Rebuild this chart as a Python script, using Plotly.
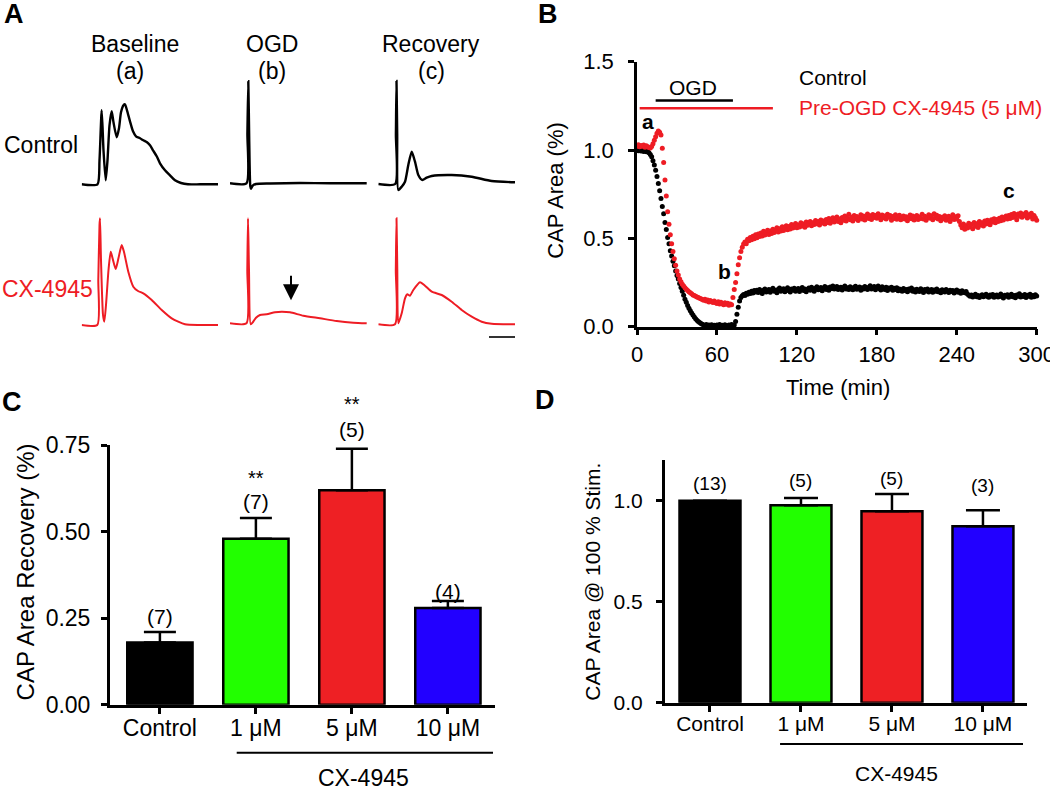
import plotly.graph_objects as go

W, H = 1050, 790
FONT = "Liberation Sans, Arial, Helvetica, sans-serif"
RED = "#ee1c24"

# ---------------- Panel A : CAP traces (time units, amplitude units)
ctrl_base_t = [0, 15.8, 17.8, 20.0, 21.8, 24.0, 25.8, 27.8, 30.0, 31.8, 35.0, 37.3, 39.3, 41.8, 43.3, 45.3,
               48.3, 51.3, 54.3, 58.3, 61.6, 65.3, 68.3, 71.3, 75.0, 78.3, 83.3, 88.3, 93.3, 99.3, 106.3, 118.3, 136.3]
ctrl_base_v = [0, 0, 24, 74, 34, 4, 24, 59, 73, 62, 47, 56, 72, 79, 80, 74,
               63, 53, 48, 46, 44, 42, 39, 34, 28, 21, 14, 9, 4, 1.3, 0, 0, 0]
ctrl_ogd_t = [0, 16.5, 17.4, 18.3, 19.2, 20.3, 21.0, 22.5, 26, 40, 70, 100, 136.7]
ctrl_ogd_v = [0, 0, 50, 102, 45, -3, -5.5, -2.5, -0.7, -0.2, 0.3, 0, 0]
ctrl_rec_t = [0, 16.9, 17.6, 18.2, 18.9, 20.0, 23.4, 26.7, 30.0, 33.4, 36.7, 40.0, 44.0, 48.4, 53.4, 73.4, 93.4, 113.4, 136.7]
ctrl_rec_v = [0, 0, 50, 103, 50, -6, -2.7, 2.3, 19, 32.3, 22.3, 9, 4, 6.3, 8, 9, 7.3, 3, 1.7]

cx_base_t = [0, 15.6, 16.6, 17.8, 18.3, 19.3, 21.3, 22.6, 24.3, 26.8, 29.0, 30.8, 34.0, 36.8, 40.0, 42.3,
             46.6, 51.6, 56.3, 61.6, 70.0, 80.0, 90.0, 103.3, 118.3, 136.3]
cx_base_v = [0, 0, 45, 100, 106.7, 65, 10, 3.3, 20, 55, 73.3, 67, 56, 67, 80, 73,
             53.3, 38.3, 34, 31.7, 25, 15, 6.7, 0.7, 0, 0]
cx_ogd_t = [0, 16.5, 17.3, 18, 19, 20.7, 23, 26, 30, 36.7, 45, 51.7, 60, 73.3, 90, 106.7, 123.3, 136.7]
cx_ogd_v = [0, 0, 53.3, 105, 53.3, -1, 1.3, 5.6, 8.3, 9, 11, 11.6, 11, 7.6, 5, 2.3, 0.6, 0]
cx_rec_t = [0, 16.7, 17.5, 18.2, 19, 20, 23.4, 26.7, 29, 31.7, 35, 41.7, 46.7, 53.4, 63.4, 73.4, 83.4, 93.4, 103.4, 113.4, 136.7]
cx_rec_v = [0, 0, 54.3, 106, 54.3, 1, 11, 26, 30, 28.6, 34.3, 42, 38.6, 32.6, 29.3, 22.6, 14.3, 7.6, 2.6, 0.6, 0]

# ---------------- Panel B : CAP area vs time (one reading per minute)
time_min = list(range(0, 301))
control_area = [
    1.000, 0.996, 1.003, 0.995, 1.001, 0.992, 0.998, 0.990, 0.994, 0.985,
    0.975, 0.962, 0.940, 0.915, 0.885, 0.850, 0.810, 0.770, 0.725, 0.680,
    0.640, 0.590, 0.550, 0.505, 0.470, 0.430, 0.400, 0.370, 0.345, 0.315,
    0.290, 0.270, 0.245, 0.222, 0.200, 0.178, 0.155, 0.138, 0.120, 0.105,
    0.090, 0.078, 0.066, 0.055, 0.045, 0.037, 0.030, 0.024, 0.018, 0.014,
    0.010, 0.006, 0.012, 0.004, 0.009, 0.002, 0.011, 0.005, 0.008, 0.001,
    0.010, 0.004, 0.012, 0.003, 0.008, 0.000, 0.011, 0.006, 0.002, 0.009,
    0.004, 0.012, 0.003, 0.010, 0.030, 0.070, 0.110, 0.145, 0.165, 0.175,
    0.182, 0.176, 0.190, 0.184, 0.195, 0.188, 0.200, 0.191, 0.205, 0.196,
    0.207, 0.193, 0.210, 0.199, 0.188, 0.206, 0.214, 0.197, 0.203, 0.211,
    0.195, 0.209, 0.217, 0.200, 0.206, 0.192, 0.212, 0.219, 0.201, 0.208,
    0.215, 0.198, 0.210, 0.221, 0.204, 0.196, 0.213, 0.206, 0.218, 0.200,
    0.209, 0.216, 0.199, 0.212, 0.222, 0.205, 0.214, 0.198, 0.210, 0.219,
    0.207, 0.224, 0.213, 0.201, 0.217, 0.226, 0.209, 0.215, 0.222, 0.204,
    0.218, 0.228, 0.211, 0.220, 0.206, 0.225, 0.216, 0.231, 0.213, 0.221,
    0.227, 0.210, 0.219, 0.224, 0.208, 0.222, 0.230, 0.214, 0.220, 0.211,
    0.226, 0.217, 0.209, 0.223, 0.229, 0.212, 0.219, 0.225, 0.207, 0.221,
    0.214, 0.228, 0.218, 0.210, 0.224, 0.232, 0.213, 0.220, 0.227, 0.209,
    0.222, 0.230, 0.215, 0.208, 0.226, 0.217, 0.211, 0.223, 0.205, 0.219,
    0.213, 0.224, 0.206, 0.217, 0.210, 0.221, 0.203, 0.214, 0.209, 0.200,
    0.216, 0.205, 0.211, 0.198, 0.213, 0.207, 0.219, 0.201, 0.209, 0.196,
    0.212, 0.204, 0.199, 0.215, 0.206, 0.193, 0.210, 0.202, 0.214, 0.197,
    0.205, 0.211, 0.195, 0.208, 0.200, 0.213, 0.198, 0.204, 0.192, 0.209,
    0.201, 0.196, 0.210, 0.203, 0.194, 0.207, 0.199, 0.205, 0.191, 0.202,
    0.208, 0.195, 0.200, 0.189, 0.204, 0.197, 0.192, 0.199, 0.185, 0.178,
    0.172, 0.180, 0.168, 0.175, 0.183, 0.170, 0.177, 0.165, 0.174, 0.181,
    0.169, 0.176, 0.184, 0.171, 0.166, 0.179, 0.173, 0.182, 0.167, 0.175,
    0.180, 0.168, 0.174, 0.185, 0.170, 0.163, 0.178, 0.172, 0.181, 0.166,
    0.175, 0.183, 0.169, 0.177, 0.164, 0.180, 0.172, 0.186, 0.168, 0.176,
    0.171, 0.182, 0.165, 0.178, 0.173, 0.184, 0.167, 0.176, 0.170, 0.181,
    0.174]
cx4945_area = [
    1.022, 1.030, 1.018, 1.026, 1.021, 1.028, 1.016, 1.024, 1.019, 1.015,
    1.012, 1.020, 1.035, 1.055, 1.075, 1.095, 1.108, 1.100, 1.085, 1.010,
    0.930, 0.830, 0.740, 0.650, 0.580, 0.520, 0.470, 0.425, 0.385, 0.348,
    0.315, 0.292, 0.270, 0.255, 0.240, 0.230, 0.220, 0.212, 0.205, 0.198,
    0.192, 0.186, 0.180, 0.176, 0.172, 0.168, 0.165, 0.161, 0.158, 0.154,
    0.150, 0.156, 0.146, 0.151, 0.140, 0.148, 0.143, 0.137, 0.145, 0.136,
    0.132, 0.141, 0.128, 0.138, 0.130, 0.124, 0.135, 0.127, 0.133, 0.122,
    0.129, 0.124, 0.165, 0.210, 0.250, 0.300, 0.350, 0.390, 0.425, 0.450,
    0.468, 0.480, 0.470, 0.495, 0.486, 0.505, 0.492, 0.512, 0.498, 0.520,
    0.503, 0.525, 0.510, 0.531, 0.514, 0.540, 0.519, 0.535, 0.546, 0.522,
    0.541, 0.527, 0.552, 0.533, 0.548, 0.560, 0.536, 0.555, 0.542, 0.566,
    0.545, 0.561, 0.572, 0.549, 0.567, 0.553, 0.578, 0.558, 0.571, 0.584,
    0.560, 0.576, 0.565, 0.588, 0.570, 0.582, 0.563, 0.592, 0.574, 0.586,
    0.596, 0.571, 0.589, 0.578, 0.601, 0.583, 0.595, 0.576, 0.604, 0.587,
    0.598, 0.581, 0.607, 0.590, 0.612, 0.585, 0.600, 0.616, 0.593, 0.606,
    0.621, 0.595, 0.610, 0.588, 0.618, 0.603, 0.627, 0.598, 0.614, 0.636,
    0.605, 0.620, 0.598, 0.630, 0.611, 0.624, 0.601, 0.617, 0.633, 0.609,
    0.626, 0.604, 0.622, 0.638, 0.612, 0.628, 0.607, 0.635, 0.618, 0.630,
    0.614, 0.640, 0.621, 0.605, 0.632, 0.616, 0.627, 0.610, 0.636, 0.619,
    0.629, 0.603, 0.624, 0.612, 0.634, 0.608, 0.620, 0.631, 0.606, 0.618,
    0.627, 0.609, 0.623, 0.600, 0.615, 0.632, 0.611, 0.626, 0.604, 0.619,
    0.630, 0.607, 0.621, 0.613, 0.636, 0.610, 0.625, 0.602, 0.618, 0.634,
    0.614, 0.628, 0.606, 0.639, 0.617, 0.631, 0.609, 0.624, 0.600, 0.620,
    0.611, 0.628, 0.603, 0.617, 0.625, 0.596, 0.612, 0.633, 0.607, 0.622,
    0.609, 0.628, 0.595, 0.575, 0.560, 0.582, 0.552, 0.571, 0.558, 0.585,
    0.565, 0.578, 0.554, 0.590, 0.569, 0.583, 0.562, 0.595, 0.575, 0.588,
    0.570, 0.598, 0.581, 0.603, 0.586, 0.577, 0.605, 0.592, 0.611, 0.589,
    0.607, 0.596, 0.614, 0.600, 0.621, 0.604, 0.617, 0.626, 0.609, 0.630,
    0.613, 0.635, 0.618, 0.641, 0.622, 0.606, 0.638, 0.625, 0.644, 0.619,
    0.637, 0.628, 0.646, 0.615, 0.633, 0.624, 0.642, 0.610, 0.629, 0.617,
    0.603]
ogd_period = [14, 72]
drug_period = [2, 102]
ogd_level = 1.28
drug_level = 1.236

# ---------------- Panels C and D : bar charts
groups = ["Control", "1 μM", "5 μM", "10 μM"]
bar_colors = ["#000000", "#22ff00", "#ee2024", "#2200ff"]
recovery_mean = [0.18, 0.48, 0.62, 0.28]
recovery_sem = [0.03, 0.06, 0.12, 0.02]
recovery_n = ["(7)", "(7)", "(5)", "(4)"]
recovery_n_y = [0.254, 0.586, 0.796, 0.327]
recovery_sig = ["", "**", "**", ""]
recovery_sig_y = [0, 0.654, 0.869, 0]
stim_mean = [1.0, 0.977, 0.948, 0.873]
stim_sem = [0.0, 0.036, 0.085, 0.08]
stim_n = ["(13)", "(5)", "(5)", "(3)"]
stim_n_y = [1.086, 1.102, 1.11, 1.073]

C_YMAX = 0.75
D_YMAX = 1.2


def px(x):
    return x / W


def py(y):
    return 1 - y / H


fig = go.Figure()
layout = dict(width=W, height=H, margin=dict(l=0, r=0, t=0, b=0), showlegend=False,
              paper_bgcolor="white", plot_bgcolor="white",
              font=dict(family=FONT, color="black", size=20), template="none")

# ---- Panel A subplots
a_traces = [(ctrl_base_t, ctrl_base_v, "black", 2.4), (ctrl_ogd_t, ctrl_ogd_v, "black", 2.4),
            (ctrl_rec_t, ctrl_rec_v, "black", 2.4), (cx_base_t, cx_base_v, RED, 2.0),
            (cx_ogd_t, cx_ogd_v, RED, 2.0), (cx_rec_t, cx_rec_v, RED, 2.0)]
col_start = [81.7, 230, 378.3]
row_base = [[184.3, 183.3, 184.0], [325.0, 323.3, 324.3]]
for i, (t, v, c, lw) in enumerate(a_traces):
    k = i + 1
    r, col = divmod(i, 3)
    xs = col_start[col]
    yb = row_base[r][col]
    fig.add_trace(go.Scatter(x=t, y=v, mode="lines", line=dict(color=c, width=lw, shape="spline", smoothing=0.6),
                             xaxis=f"x{k}", yaxis=f"y{k}", hoverinfo="skip"))
    layout[f"xaxis{k}"] = dict(domain=[px(xs), px(xs + 140)], range=[0, 140], visible=False,
                               anchor=f"y{k}", automargin=False)
    layout[f"yaxis{k}"] = dict(domain=[py(yb + 12), py(yb - 112)], range=[-12, 112], visible=False,
                               anchor=f"x{k}", automargin=False)

# ---- Panel B
fig.add_trace(go.Scatter(x=drug_period, y=[drug_level] * 2, mode="lines", line=dict(color=RED, width=2.5),
                         xaxis="x7", yaxis="y7", hoverinfo="skip"))
fig.add_trace(go.Scatter(x=ogd_period, y=[ogd_level] * 2, mode="lines", line=dict(color="black", width=2.5),
                         xaxis="x7", yaxis="y7", hoverinfo="skip"))
fig.add_trace(go.Scatter(x=time_min, y=control_area, mode="markers", marker=dict(color="black", size=5),
                         xaxis="x7", yaxis="y7", cliponaxis=False))
fig.add_trace(go.Scatter(x=time_min, y=cx4945_area, mode="markers", marker=dict(color=RED, size=5),
                         xaxis="x7", yaxis="y7", cliponaxis=False))

axis_common = dict(showline=True, linecolor="black", showgrid=False, zeroline=False, ticks="outside",
                   tickcolor="black", automargin=False, mirror=False, ticklabeloverflow="allow")
layout["xaxis7"] = dict(axis_common, domain=[px(637), px(1036.7)], range=[0, 300], anchor="y7",
                        tickvals=[0, 60, 120, 180, 240, 300], linewidth=2.5, tickwidth=2.5, ticklen=6,
                        tickfont=dict(size=22))
layout["yaxis7"] = dict(axis_common, domain=[py(326.7), py(61.7)], range=[0, 1.5], anchor="x7",
                        tickvals=[0, 0.5, 1.0, 1.5], ticktext=["0.0", "0.5", "1.0", "1.5"],
                        linewidth=2.5, tickwidth=2.5, ticklen=6, tickfont=dict(size=22),
                        ticklabelstandoff=10)

# ---- Panel C
fig.add_trace(go.Bar(x=[0, 1, 2, 3], y=recovery_mean, width=0.68, marker=dict(color=bar_colors,
                     line=dict(color="black", width=2.5)),
                     error_y=dict(type="data", symmetric=False, array=recovery_sem, arrayminus=[0] * 4,
                                  color="black", thickness=2.5, width=16),
                     xaxis="x8", yaxis="y8"))
layout["xaxis8"] = dict(axis_common, domain=[px(110), px(495.3)], range=[-0.52, 3.494], anchor="y8",
                        tickvals=[0, 1, 2, 3], ticktext=groups, linewidth=3, tickwidth=2.5, ticklen=6,
                        tickfont=dict(size=23), ticklabelstandoff=-5)
layout["yaxis8"] = dict(axis_common, domain=[py(704.8), py(445.2)], range=[0, C_YMAX], anchor="x8",
                        tickvals=[0, 0.25, 0.5, 0.75], ticktext=["0.00", "0.25", "0.50", "0.75"],
                        linewidth=3, tickwidth=2.5, ticklen=6, tickfont=dict(size=23),
                        ticklabelstandoff=6)

# ---- Panel D
fig.add_trace(go.Bar(x=[0, 1, 2, 3], y=stim_mean, width=0.67, marker=dict(color=bar_colors,
                     line=dict(color="black", width=2.5)),
                     error_y=dict(type="data", symmetric=False, array=stim_sem, arrayminus=[0] * 4,
                                  color="black", thickness=2.5, width=17),
                     xaxis="x9", yaxis="y9"))
layout["xaxis9"] = dict(axis_common, domain=[px(665), px(1027)], range=[-0.4945, 3.484], anchor="y9",
                        tickvals=[0, 1, 2, 3], ticktext=groups, linewidth=3, tickwidth=2.5, ticklen=6,
                        tickfont=dict(size=21), ticklabelstandoff=-6)
layout["yaxis9"] = dict(axis_common, domain=[py(702.7), py(460.3)], range=[0, D_YMAX], anchor="x9",
                        tickvals=[0, 0.5, 1.0], ticktext=["0.0", "0.5", "1.0"],
                        linewidth=3, tickwidth=2.5, ticklen=6, tickfont=dict(size=21),
                        ticklabelstandoff=9)

ann = []


def text(x, y, s, size, color="black", xanchor="center", angle=0, xref="paper", yref="paper"):
    ann.append(dict(x=x, y=y, xref=xref, yref=yref, text=s, showarrow=False, xanchor=xanchor,
                    yanchor="middle", textangle=angle, font=dict(size=size, color=color, family=FONT)))


# panel letters
for s, x, y in [("A", 13.5, 14), ("B", 548, 14), ("C", 12, 402), ("D", 545, 400)]:
    text(px(x), py(y), f"<b>{s}</b>", 27)

# panel A labels
for s, x, y in [("Baseline", 135, 44), ("(a)", 130, 71), ("OGD", 272, 44), ("(b)", 272, 71),
                ("Recovery", 431, 44), ("(c)", 431, 71), ("Control", 40.6, 145.4)]:
    text(px(x), py(y), s, 23)
text(px(47.3), py(289), "CX-4945", 23, color=RED)
ann.append(dict(x=61, y=23, xref="x5", yref="y5", text="", showarrow=True, ax=0, ay=-26,
                arrowhead=2, arrowsize=1.6, arrowwidth=2, arrowcolor="black"))

# panel B labels
text(42.3, 1.355, "OGD", 21, xref="x7", yref="y7")
text(120, 1.411, "Control", 21, xanchor="left", xref="x7", yref="y7")
text(120, 1.241, "Pre-OGD CX-4945 (5 μM)", 21, color=RED, xanchor="left", xref="x7", yref="y7")
text(8.5, 1.16, "<b>a</b>", 21, xref="x7", yref="y7")
text(65.7, 0.31, "<b>b</b>", 21, xref="x7", yref="y7")
text(279, 0.77, "<b>c</b>", 21, xref="x7", yref="y7")
text(px(555.7), py(190), "CAP Area (%)", 22, angle=-90)
text(px(838), py(387.3), "Time (min)", 22)

# panel C labels
for i in range(4):
    text(i, recovery_n_y[i] / C_YMAX, recovery_n[i], 21, xref="x8", yref="y8 domain")
    if recovery_sig[i]:
        text(i, recovery_sig_y[i] / C_YMAX, recovery_sig[i], 20, xref="x8", yref="y8 domain")
text(px(25.4), py(572), "CAP Area Recovery (%)", 24, angle=-90)
text(2.12, py(778), "CX-4945", 23, xref="x8")

# panel D labels
for i in range(4):
    text(i, stim_n_y[i] / D_YMAX, stim_n[i], 19, xref="x9", yref="y9 domain")
text(px(593), py(581.7), "CAP Area @ 100 % Stim.", 21, angle=-90)
text(2.05, py(773.3), "CX-4945", 21, xref="x9")

shapes = [
    dict(type="line", xref="x6", yref="paper", x0=110.7, x1=136.7, y0=py(337), y1=py(337),
         line=dict(color="#333333", width=2)),
    dict(type="line", xref="x8", yref="paper", x0=0.80, x1=3.47, y0=py(752.8), y1=py(752.8),
         line=dict(color="black", width=2)),
    dict(type="line", xref="x9", yref="paper", x0=0.77, x1=3.44, y0=py(744), y1=py(744),
         line=dict(color="black", width=2)),
]

layout["annotations"] = ann
layout["shapes"] = shapes
fig.update_layout(**layout)

fig.write_html("out.html", config={"displayModeBar": False},
               post_script="document.body.style.margin='0';document.body.style.overflow='hidden';")
